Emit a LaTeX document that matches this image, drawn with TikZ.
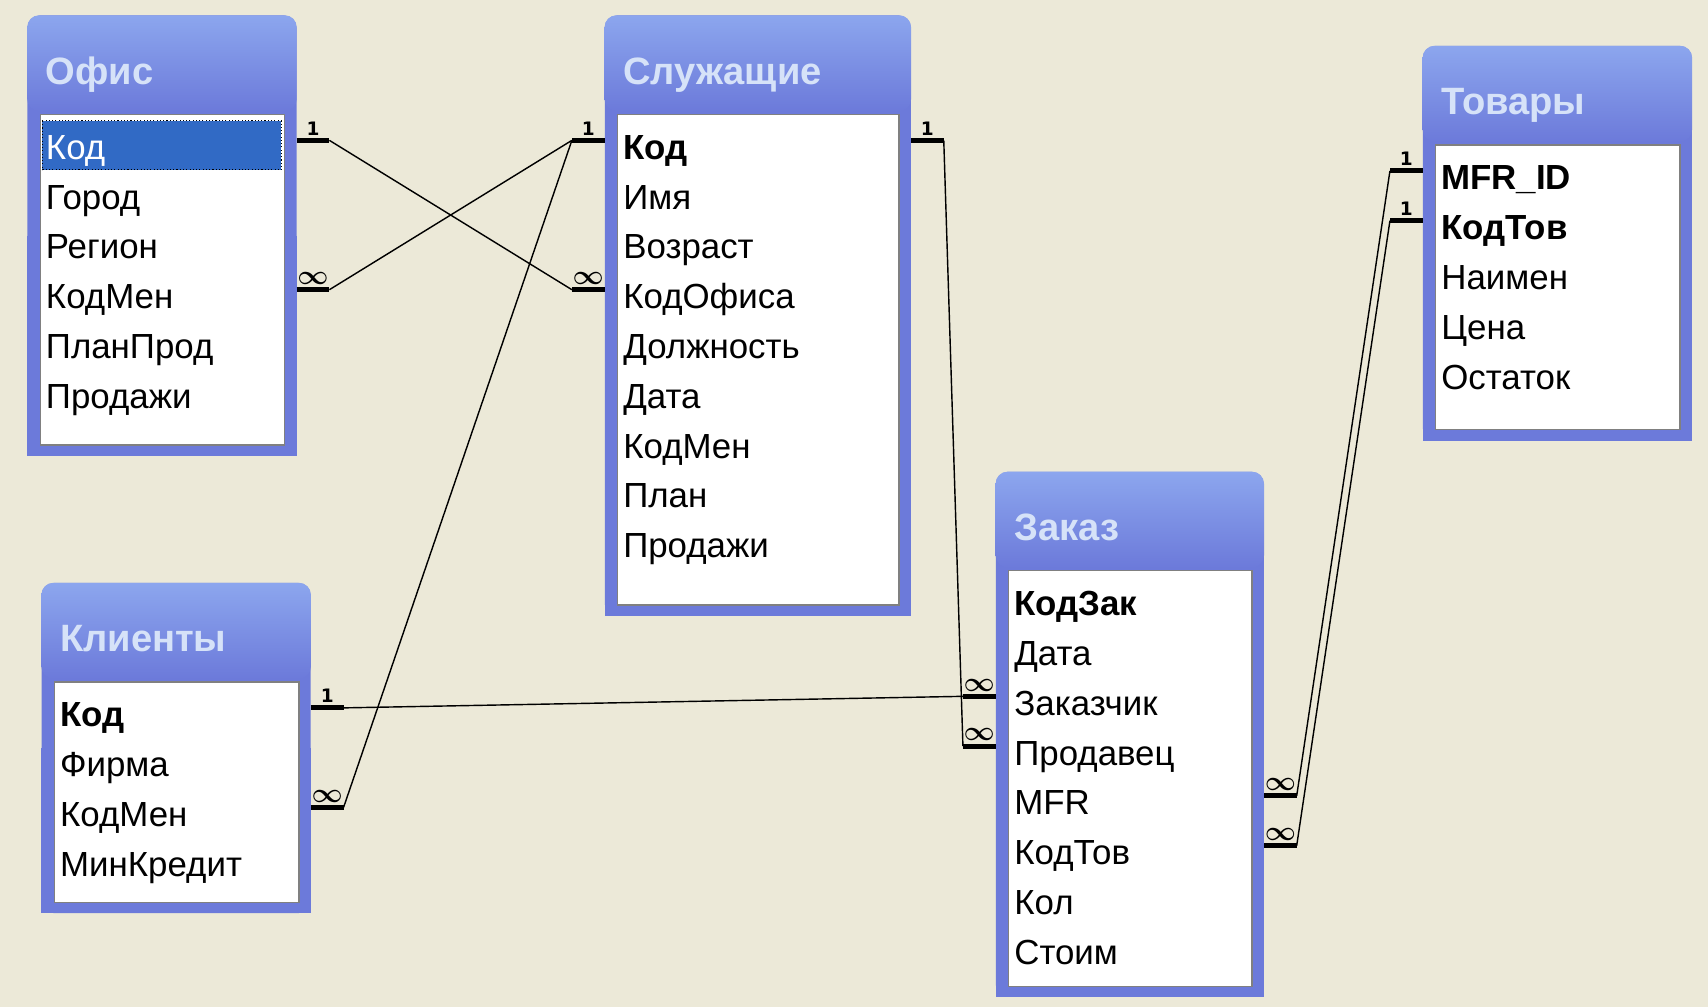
\documentclass[tikz,border=0pt]{standalone}
\usepackage{fontspec}
\setmainfont{Liberation Sans}
\newfontfamily\cardfamily{DejaVu Sans}
\usetikzlibrary{positioning,calc}
\definecolor{bgcol}{RGB}{236,233,216}
\definecolor{frameblue}{RGB}{108,122,218}
\definecolor{titletop}{RGB}{140,166,238}
\definecolor{titletext}{RGB}{214,226,248}
\definecolor{selblue}{RGB}{49,106,197}
\definecolor{listedge}{RGB}{128,128,128}
\newcommand{\manysym}{{\fontsize{24}{24}\selectfont\boldmath$\infty$}}

% table frame + title: name, left, top, width, height, title
\newcommand{\dbtable}[6]{%
  \node[frame, minimum width=#4pt, minimum height=#5pt, anchor=north west] (#1) at (#2,#3) {};
  \fill[frameblue] (#1.south west) rectangle (#1.east);
  \shade[top color=titletop, bottom color=frameblue, rounded corners=11pt] (#1.north west) rectangle ($(#1.north east)+(0,88)$);
  \draw[listbox] ($(#1.north west)+(12,91)$) rectangle ($(#1.south east)+(-11,-10)$);
  \node[tabtitle] (#1-title) at ($(#1.north west)+(17,51)$) {#6};
}
% field rows of a table
\newcommand{\dbfields}[2]{%
  \foreach \f [count=\i] in {#2}{%
    \pgfmathtruncatemacro{\j}{\i-1}%
    \ifnum\i=1
      \node[field, below right=98pt and 17pt of #1.north west] (#1-\i) {\f};
    \else
      \node[field, below=0pt of #1-\j.south west, anchor=north west] (#1-\i) {\f};
    \fi
  }%
}

\begin{document}
\begin{tikzpicture}[
  x=1pt, y=-1pt,
  frame/.style={fill=frameblue, rounded corners=11pt, inner sep=0pt},
  listbox/.style={fill=white, draw=listedge, line width=1.2pt},
  tabtitle/.style={anchor=west, inner sep=0pt, text height=25pt, text depth=0pt, text=titletext, font=\fontsize{35}{35}\selectfont\bfseries},
  field/.style={anchor=west, inner sep=0pt, minimum height=45.3pt, text height=23pt, text depth=0pt, font=\fontsize{32}{32}\selectfont},
  stub/.style={line width=4.5pt},
  rel/.style={line width=1.3pt},
  card/.style={above=2.5pt, inner sep=0pt, font=\cardfamily\bfseries\fontsize{17}{17}\selectfont}
]
\fill[bgcol] (0,0) rectangle (1568,924);
\useasboundingbox (0,0) rectangle (1568,924);

\dbtable{ofis}{25}{14}{247}{404}{Офис}
\fill[selblue] ($(ofis.north west)+(14,97)$) rectangle ($(ofis.north east)+(-14,142)$);
\draw[dotted, line width=1pt] ($(ofis.north west)+(14,97)$) rectangle ($(ofis.north east)+(-14,142)$);
\dbfields{ofis}{{\color{white}Код},Город,Регион,КодМен,ПланПрод,Продажи}

\dbtable{slu}{555}{14}{281}{551}{Служащие}
\dbfields{slu}{\textbf{Код},Имя,Возраст,КодОфиса,Должность,Дата,КодМен,План,Продажи}

\dbtable{tov}{1306}{42}{247}{362}{Товары}
\dbfields{tov}{\textbf{MFR\_ID},\textbf{КодТов},Наимен,Цена,Остаток}

\dbtable{zak}{914}{433}{246}{482}{Заказ}
\dbfields{zak}{\textbf{КодЗак},Дата,Заказчик,Продавец,MFR,КодТов,Кол,Стоим}

\dbtable{kli}{38}{535}{247}{303}{Клиенты}
\dbfields{kli}{\textbf{Код},Фирма,КодМен,МинКредит}

% key ends at the frames
\coordinate (okod) at ($(ofis.east |- ofis-1)+(0,-6)$);
\coordinate (omen) at ($(ofis.east |- ofis-4)+(0,-6)$);
\coordinate (skodw) at ($(slu.west |- slu-1)+(0,-6)$);
\coordinate (sofis) at ($(slu.west |- slu-4)+(0,-6)$);
\coordinate (skode) at ($(slu.east |- slu-1)+(0,-6)$);
\coordinate (kkod) at ($(kli.east |- kli-1)+(0,-6)$);
\coordinate (kmen) at ($(kli.east |- kli-3)+(0,-6)$);
\coordinate (zcust) at ($(zak.west |- zak-3)+(0,-6)$);
\coordinate (zsell) at ($(zak.west |- zak-4)+(0,-6)$);
\coordinate (zmfr) at ($(zak.east |- zak-5)+(0,-6)$);
\coordinate (ztov) at ($(zak.east |- zak-6)+(0,-6)$);
\coordinate (tmfr) at ($(tov.west |- tov-1)+(0,-6)$);
\coordinate (tkod) at ($(tov.west |- tov-2)+(0,-6)$);

\foreach \p/\d/\c in {okod/30/1, omen/30/\manysym, skodw/-30/1, sofis/-30/\manysym, skode/30/1,
    kkod/30/1, kmen/30/\manysym, zcust/-30/\manysym, zsell/-30/\manysym, zmfr/30/\manysym,
    ztov/30/\manysym, tmfr/-30/1, tkod/-30/1}
  \draw[stub] (\p) -- node[card]{\c} ++(\d,0) coordinate (\p-s);

\draw[rel] (okod-s) -- (sofis-s);
\draw[rel] (omen-s) -- (skodw-s);
\draw[rel] (kmen-s) -- (skodw-s);
\draw[rel] (kkod-s) -- (zcust-s);
\draw[rel] (skode-s) -- (zsell-s);
\draw[rel] (tmfr-s) -- (zmfr-s);
\draw[rel] (tkod-s) -- (ztov-s);
\end{tikzpicture}
\end{document}
